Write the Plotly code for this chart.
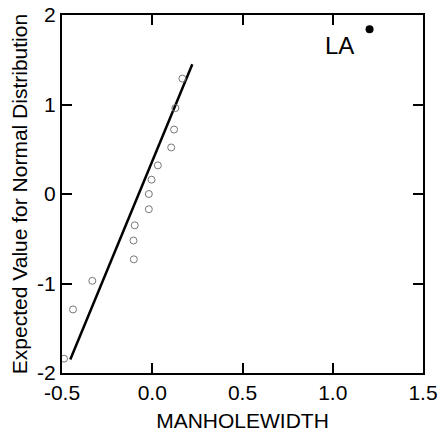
import plotly.graph_objects as go

# Normal probability plot of MANHOLEWIDTH
manhole_width = [-0.489, -0.439, -0.332, -0.102, -0.104, -0.097, -0.019, -0.019,
                 -0.004, 0.031, 0.105, 0.121, 0.128, 0.167]
normal_score = [-1.84, -1.29, -0.97, -0.73, -0.52, -0.35, -0.17, 0.0,
                0.16, 0.32, 0.52, 0.72, 0.96, 1.29]

outlier_x = [1.204]
outlier_y = [1.84]
outlier_label = ["LA"]

fit_x = [-0.454, 0.222]
fit_y = [-1.85, 1.45]

x_ticks = [-0.5, 0.0, 0.5, 1.0, 1.5]
y_ticks = [-2, -1, 0, 1, 2]

FONT = "Arial, Liberation Sans, sans-serif"

fig = go.Figure()

fig.add_trace(go.Scatter(
    x=fit_x, y=fit_y, mode="lines",
    line=dict(color="black", width=2.5),
    showlegend=False, hoverinfo="skip",
))

fig.add_trace(go.Scatter(
    x=manhole_width, y=normal_score, mode="markers",
    marker=dict(symbol="circle-open", size=7, color="#777777",
                line=dict(width=1, color="#777777")),
    showlegend=False,
))

fig.add_trace(go.Scatter(
    x=outlier_x, y=outlier_y, mode="markers",
    marker=dict(symbol="circle", size=8, color="black"),
    showlegend=False,
))

fig.add_annotation(
    x=1.04, y=1.66, text=outlier_label[0], showarrow=False,
    font=dict(family=FONT, size=24, color="black"),
    xanchor="center", yanchor="middle",
)

axis_common = dict(
    showgrid=False, zeroline=False, automargin=False,
    showline=True, linecolor="black", linewidth=2, mirror="ticks",
    ticks="inside", ticklen=10, tickwidth=2, tickcolor="black",
    tickfont=dict(family=FONT, size=21, color="black"),
)

fig.update_xaxes(
    range=[-0.5, 1.5], tickvals=x_ticks,
    ticktext=[f"{v:.1f}" for v in x_ticks],
    title=dict(text="MANHOLEWIDTH", font=dict(family=FONT, size=21, color="black"),
               standoff=10),
    **axis_common,
)
fig.update_yaxes(
    range=[-2, 2], tickvals=y_ticks,
    ticktext=[str(v) for v in y_ticks],
    title=dict(text="Expected Value for Normal Distribution",
               font=dict(family=FONT, size=21, color="black"), standoff=4),
    **axis_common,
)

fig.update_layout(
    width=442, height=434,
    margin=dict(l=62, r=19, t=15, b=61),
    paper_bgcolor="white", plot_bgcolor="white",
)

fig.write_html("out.html")
